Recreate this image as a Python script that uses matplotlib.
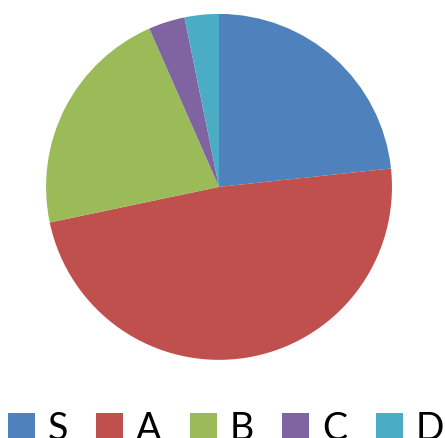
import matplotlib.pyplot as plt
from matplotlib.patches import Patch

labels = ['S', 'A', 'B', 'C', 'D']
values = [23.3, 48.4, 21.7, 3.4, 3.2]
colors = ['#4F81BD', '#C0504D', '#9BBB59', '#8064A2', '#4BACC6']

plt.rcParams['font.family'] = ['Lato', 'DejaVu Sans']

fig = plt.figure(figsize=(4.45, 4.39), dpi=100)
ax = fig.add_axes([0.1034, 0.178, 0.7775, 0.788])
ax.pie(values, colors=colors, startangle=90, counterclock=False,
       wedgeprops=dict(linewidth=0))
ax.set_xlim(-1, 1)
ax.set_ylim(-1, 1)
ax.set_aspect('equal')

handles = [Patch(facecolor=c, edgecolor='none') for c in colors]
fig.legend(handles, labels, loc='lower left', bbox_to_anchor=(0.0, -0.036),
           ncol=5, frameon=False, fontsize=27, handlelength=0.72,
           handleheight=0.72, handletextpad=0.35, columnspacing=0.75,
           borderaxespad=0, borderpad=0.2)

fig.savefig('out.png', dpi=100)
